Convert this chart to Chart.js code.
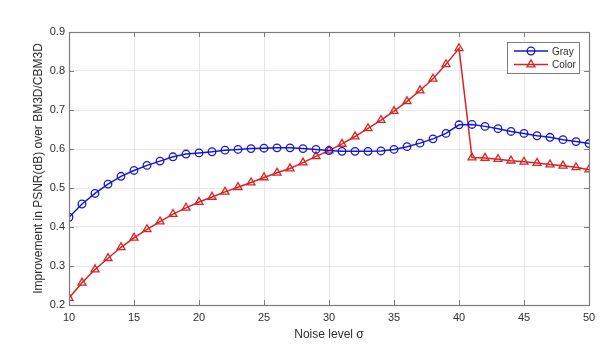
<!DOCTYPE html>
<html>
<head>
<meta charset="utf-8">
<script src="https://cdn.jsdelivr.net/npm/chart.js@4/dist/chart.umd.min.js"></script>
<style>
  html, body { margin: 0; padding: 0; background: #fff; }
  #wrap { width: 614px; height: 347px; }
</style>
</head>
<body>
<div id="wrap"><canvas id="chart" width="614" height="347"></canvas></div>
<script>
// noise levels (sigma)
const noiseLevels = [10, 11, 12, 13, 14, 15, 16, 17, 18, 19, 20, 21, 22, 23, 24, 25, 26, 27, 28, 29, 30,
    31, 32, 33, 34, 35, 36, 37, 38, 39, 40, 41, 42, 43, 44, 45, 46, 47, 48, 49, 50];

// improvement over BM3D (gray)
const grayValues = [0.425, 0.459, 0.486, 0.510, 0.530, 0.545, 0.558, 0.569, 0.580, 0.587, 0.590,
    0.593, 0.597, 0.599, 0.601, 0.602, 0.603, 0.603, 0.601, 0.599, 0.596,
    0.594, 0.594, 0.594, 0.595, 0.599, 0.606, 0.615, 0.626, 0.640, 0.662,
    0.663, 0.658, 0.652, 0.645, 0.640, 0.634, 0.630, 0.624, 0.619, 0.614];

// improvement over CBM3D (color)
const colorValues = [0.218, 0.257, 0.291, 0.320, 0.348, 0.372, 0.394, 0.414, 0.433, 0.449, 0.464,
    0.477, 0.490, 0.502, 0.514, 0.527, 0.539, 0.550, 0.565, 0.581, 0.596,
    0.613, 0.632, 0.653, 0.674, 0.697, 0.722, 0.750, 0.780, 0.817, 0.858,
    0.578, 0.577, 0.574, 0.570, 0.567, 0.564, 0.560, 0.557, 0.553, 0.547];

const xTicks = [10, 15, 20, 25, 30, 35, 40, 45, 50];
const yTicks = [0.2, 0.3, 0.4, 0.5, 0.6, 0.7, 0.8, 0.9];

const BLUE = '#1818cc';
const RED = '#d82424';
const TXT = '#2e2e2e';

function points(vals) {
    return vals.map((v, i) => ({ x: noiseLevels[i], y: v }));
}

// box + inner ticks + legend, matlab style
const matlabBox = {
    id: 'matlabBox',
    afterDraw(chart) {
        const ctx = chart.ctx;
        const a = chart.chartArea;
        const xs = chart.scales.x, ys = chart.scales.y;
        ctx.save();
        ctx.strokeStyle = '#7d7d7d';
        ctx.lineWidth = 1;
        ctx.beginPath();
        xTicks.forEach(t => {
            const px = Math.round(xs.getPixelForValue(t)) + 0.5;
            ctx.moveTo(px, a.bottom); ctx.lineTo(px, a.bottom - 5);
            ctx.moveTo(px, a.top); ctx.lineTo(px, a.top + 5);
        });
        yTicks.forEach(t => {
            const py = Math.round(ys.getPixelForValue(t)) + 0.5;
            ctx.moveTo(a.left, py); ctx.lineTo(a.left + 5, py);
            ctx.moveTo(a.right, py); ctx.lineTo(a.right - 5, py);
        });
        ctx.stroke();
        ctx.lineWidth = 1.2;
        ctx.strokeRect(Math.round(a.left) + 0.5, Math.round(a.top) + 0.5,
            Math.round(a.right - a.left), Math.round(a.bottom - a.top));

        // legend
        const lx = 507, ly = 42, lw = 72, lh = 31;
        ctx.fillStyle = '#fff';
        ctx.fillRect(lx, ly, lw, lh);
        ctx.strokeStyle = '#7d7d7d';
        ctx.lineWidth = 1;
        ctx.strokeRect(lx + 0.5, ly + 0.5, lw, lh);
        ctx.font = '10px "Liberation Sans", Arial, sans-serif';
        ctx.textBaseline = 'middle';
        ctx.textAlign = 'left';
        chart.data.datasets.forEach((ds, i) => {
            const yy = ly + 9 + i * 13.5;
            ctx.strokeStyle = ds.borderColor;
            ctx.lineWidth = 1.5;
            ctx.beginPath();
            ctx.moveTo(lx + 7, yy); ctx.lineTo(lx + 41, yy);
            ctx.stroke();
            ctx.fillStyle = 'rgba(0,0,0,0)';
            ctx.lineWidth = ds.pointBorderWidth;
            Chart.helpers.drawPoint(ctx, {
                pointStyle: ds.pointStyle, radius: ds.pointRadius,
                borderWidth: ds.pointBorderWidth, rotation: 0
            }, lx + 24, yy);
            ctx.fillStyle = TXT;
            ctx.fillText(ds.label, lx + 45, yy + 1);
        });
        ctx.restore();
    }
};

const ctx = document.getElementById('chart').getContext('2d');
new Chart(ctx, {
    type: 'line',
    data: {
        datasets: [
            {
                label: 'Gray',
                data: points(grayValues),
                borderColor: BLUE,
                backgroundColor: 'rgba(0,0,0,0)',
                borderWidth: 1.5,
                pointStyle: 'circle',
                pointRadius: 3.8,
                pointBorderWidth: 1.3,
                pointBorderColor: BLUE,
                pointBackgroundColor: 'rgba(0,0,0,0)',
                tension: 0
            },
            {
                label: 'Color',
                data: points(colorValues),
                borderColor: RED,
                backgroundColor: 'rgba(0,0,0,0)',
                borderWidth: 1.5,
                pointStyle: 'triangle',
                pointRadius: 4.6,
                pointBorderWidth: 1.3,
                pointBorderColor: RED,
                pointBackgroundColor: 'rgba(0,0,0,0)',
                tension: 0
            }
        ]
    },
    options: {
        responsive: false,
        animation: false,
        layout: { padding: { left: 0, right: 25, top: 32, bottom: 0 } },
        plugins: {
            legend: { display: false },
            tooltip: { enabled: false }
        },
        scales: {
            x: {
                type: 'linear',
                min: 10, max: 50,
                afterFit: s => { s.height = 42; },
                afterBuildTicks: s => { s.ticks = xTicks.map(v => ({ value: v })); },
                ticks: {
                    color: TXT,
                    font: { family: '"Liberation Sans", Arial, sans-serif', size: 11 },
                    padding: 6,
                    maxRotation: 0
                },
                grid: { color: '#e8e8e8', drawTicks: false },
                border: { display: false },
                title: {
                    display: true,
                    text: 'Noise level σ',
                    color: TXT,
                    font: { family: '"Liberation Sans", Arial, sans-serif', size: 12 },
                    padding: { top: 0, bottom: 5 }
                }
            },
            y: {
                min: 0.2, max: 0.9,
                afterFit: s => { s.width = 69; },
                afterBuildTicks: s => { s.ticks = yTicks.map(v => ({ value: v })); },
                ticks: {
                    color: TXT,
                    font: { family: '"Liberation Sans", Arial, sans-serif', size: 11 },
                    padding: 4,
                    callback: v => v.toFixed(1)
                },
                grid: { color: '#e8e8e8', drawTicks: false },
                border: { display: false },
                title: {
                    display: true,
                    text: 'Improvement in PSNR(dB) over BM3D/CBM3D',
                    color: TXT,
                    font: { family: '"Liberation Sans", Arial, sans-serif', size: 12 },
                    padding: { top: 31, bottom: 0 }
                }
            }
        }
    },
    plugins: [matlabBox]
});
</script>
</body>
</html>
